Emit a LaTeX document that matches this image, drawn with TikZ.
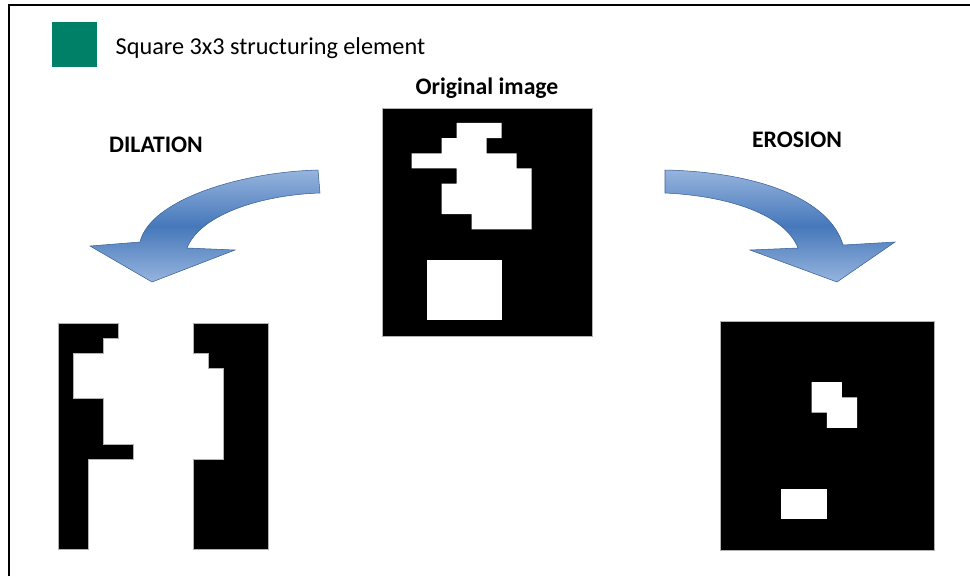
\documentclass[tikz,border=0pt]{standalone}
\usepackage{fontspec}
\setmainfont{Carlito}
\usetikzlibrary{positioning,shadows}
\definecolor{verdese}{RGB}{0,128,102}
\definecolor{azulclaro}{RGB}{150,180,222}
\definecolor{azulmedio}{RGB}{70,120,186}
\definecolor{azulsombra}{RGB}{35,62,110}

\begin{document}
\begin{tikzpicture}[
  x=0.02cm, y=-0.02cm,
  txt/.style={font=\fontsize{13.8}{16}\selectfont, inner sep=0pt},
  lbl/.style={font=\fontsize{13.5}{16}\selectfont\bfseries, inner sep=0pt},
  img/.style={fill=black, draw=gray!60, line width=0.4pt, inner sep=0pt},
  curvarrow/.style={shade, shading=axis, top color=azulclaro, bottom color=azulclaro,
                    middle color=azulmedio, shading angle=0, draw=azulmedio!80!black, line width=0.3pt}
]
\useasboundingbox (0,0) rectangle (970,576);
\draw[line width=1.2pt] (9,576) -- (9,5) -- (970,5);

% legend
\node[fill=verdese, minimum size=0.9cm, inner sep=0pt] (sq) at (74.5,44.5) {};
\node[txt, right=0.36cm of sq, yshift=-0.8mm] (sqtxt) {Square 3x3 structuring element};

% original image
\node[img, minimum width=4.2cm, minimum height=4.56cm] (orig) at (487,222) {};
\node[lbl, above=0.17cm of orig] (origlbl) {Original image};
\begin{scope}[shift={(orig.north west)}, x=0.3cm, y=-0.304cm]
  \fill[white] (5,1) -| (8,2) -| (7,3) -| (9,4) -| (10,8) -| (6,7) -| (4,5)
               -| (5,4) -| (2,3) -| (4,2) -| (5,1) -- cycle;
  \fill[white] (3,10) rectangle (8,14);
\end{scope}

% dilation
\node[lbl, anchor=base] (dillbl) at (156,152) {DILATION};
\coordinate (dil) at (58.3,323.3);
\begin{scope}[shift={(dil)}, x=0.3cm, y=-0.302cm]
  \filldraw[img] (0,0) -| (4,1) -| (3,2) -| (1,5) -| (3,8) -| (5,9) -| (2,15) -| (0,0) -- cycle;
  \filldraw[img] (9,0) -| (14,15) -| (9,9) -| (11,3) -| (10,2) -| (9,0) -- cycle;
\end{scope}

% erosion
\node[lbl, anchor=base] (erolbl) at (797,147) {EROSION};
\node[img, minimum width=4.266cm, minimum height=4.566cm] (ero) at (827.35,435.85) {};
\begin{scope}[shift={(ero.north west)}, x=0.304cm, y=-0.304cm]
  \fill[white] (6,4) -| (8,5) -| (9,7) -| (7,6) -| (6,4) -- cycle;
  \fill[white] (4,11) rectangle (7,13);
\end{scope}

% arrows
\path[curvarrow] (318,170) .. controls (240,172) and (150,200) .. (140,242)
  -- (90,246) -- (152,282) -- (235,250) -- (187,248)
  .. controls (200,215) and (260,195) .. (320,193) -- cycle;
\path[curvarrow] (665,170) .. controls (760,172) and (830,200) .. (843,245)
  -- (895,242) -- (837,282) -- (750,250) -- (798,248)
  .. controls (785,215) and (730,196) .. (665,193) -- cycle;
\end{tikzpicture}
\end{document}
